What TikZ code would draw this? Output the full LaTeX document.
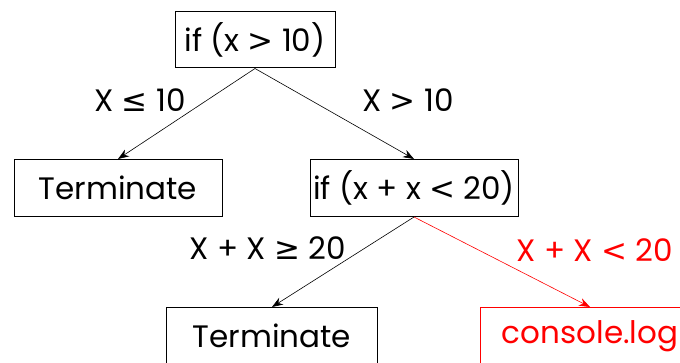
\documentclass[tikz,border=0pt]{standalone}
\usepackage{fontspec}
\setmainfont{Poppins}
\newfontfamily\symfont{DejaVu Sans}
\newcommand{\lt}{{\symfont <}}
\newcommand{\gt}{{\symfont >}}
\usepackage{tikz}
\usetikzlibrary{arrows.meta,positioning}

\begin{document}
\begin{tikzpicture}[
  x=1pt, y=1pt,
  every node/.style={draw, rectangle, font=\fontsize{31}{34}\selectfont, inner sep=2pt, line width=1pt},
  lbl/.style={draw=none, font=\fontsize{31}{34}\selectfont},
  level distance=148pt,
  level 1/.style={sibling distance=296pt},
  level 2/.style={sibling distance=318pt},
  edge from parent/.style={draw, ->, >={Stealth[length=11pt,width=8pt]}, line width=0.6pt},
  edge from parent path={(\tikzparentnode.south) -- (\tikzchildnode.north)}
]
\useasboundingbox (0,0) rectangle (680,-363);
\clip (0,0) rectangle (680,-363);

\node[minimum width=160pt, minimum height=56pt] (ifa) at (255,-40) {if (x \gt{} 10)}
  child[xshift=11pt] { node[minimum width=208pt, minimum height=57pt] (terma) {Terminate} }
  child[xshift=11pt] { node[minimum width=208pt, minimum height=57pt, inner sep=0pt] (ifb) {if (x + x \lt{} 20)}
    child[xshift=17pt] { node[minimum width=211pt, minimum height=57pt] (termb) {Terminate} }
    child[xshift=17pt, red] { node[red, minimum width=220pt, minimum height=57pt] (cons) {console.log}
      edge from parent[draw=red] }
  };

\node[lbl] (la) at (140,-100) {X {\symfont ≤} 10};
\node[lbl] (lb) at (408,-100) {X \gt{} 10};
\node[lbl] (lc) at (268,-248) {X + X {\symfont ≥} 20};
\node[lbl, red] (ld) at (595,-250) {X + X \lt{} 20};

\end{tikzpicture}
\end{document}
